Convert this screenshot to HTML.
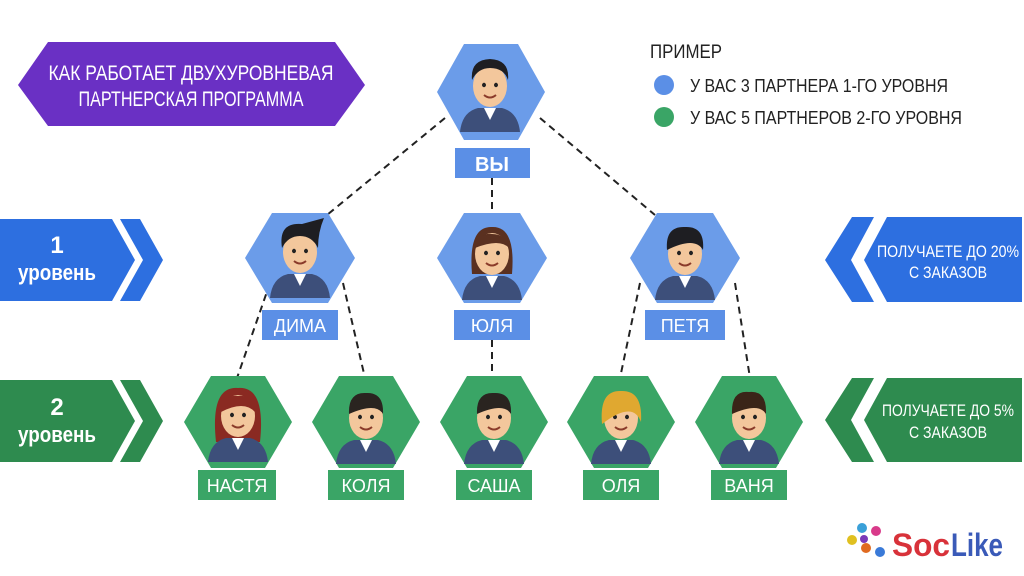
<!DOCTYPE html>
<html><head><meta charset="utf-8"><style>
html,body{margin:0;padding:0;background:#fff;}
svg{display:block;}
text{font-family:"Liberation Sans Narrow","Liberation Sans",sans-serif;}
</style></head><body>
<svg width="1024" height="576" viewBox="0 0 1024 576" xmlns="http://www.w3.org/2000/svg">
<defs>
<g id="face">
  <path d="M-30 46 Q-28 26 -12 22 L12 22 Q28 26 30 46 Z" fill="#3d4f7a"/>
  <path d="M-6 22 L0 34 L6 22 Z" fill="#fff"/>
  <ellipse cx="0" cy="0" rx="17" ry="21" fill="#f3c79c"/>
  <ellipse cx="-6" cy="-1" rx="2" ry="2.2" fill="#222"/>
  <ellipse cx="6" cy="-1" rx="2" ry="2.2" fill="#222"/>
  <path d="M-6 9 Q0 14 6 9" stroke="#8a3b2a" stroke-width="2" fill="none"/>
</g>
</defs>

<!-- purple title -->
<polygon points="18,85 48,42 335,42 365,85 335,126 48,126" fill="#6a30c4"/>
<text x="191" y="80" fill="#fff" font-size="21" text-anchor="middle" textLength="285" lengthAdjust="spacingAndGlyphs">КАК РАБОТАЕТ ДВУХУРОВНЕВАЯ</text>
<text x="191" y="106" fill="#fff" font-size="21" text-anchor="middle" textLength="225" lengthAdjust="spacingAndGlyphs">ПАРТНЕРСКАЯ ПРОГРАММА</text>

<!-- legend -->
<text x="650" y="58" fill="#222" font-size="19" textLength="72" lengthAdjust="spacingAndGlyphs">ПРИМЕР</text>
<circle cx="664" cy="85" r="10" fill="#5b8fe6"/>
<text x="690" y="92" fill="#222" font-size="18" textLength="258" lengthAdjust="spacingAndGlyphs">У ВАС 3 ПАРТНЕРА 1-ГО УРОВНЯ</text>
<circle cx="664" cy="117" r="10" fill="#3aa566"/>
<text x="690" y="124" fill="#222" font-size="18" textLength="272" lengthAdjust="spacingAndGlyphs">У ВАС 5 ПАРТНЕРОВ 2-ГО УРОВНЯ</text>

<!-- left bands -->
<polygon points="0,219 112,219 135,260 112,301 0,301" fill="#2d6fe0"/>
<polygon points="120,219 140,219 163,260 140,301 120,301 143,260" fill="#2d6fe0"/>
<text x="57" y="253" fill="#fff" font-size="24" font-weight="bold" text-anchor="middle">1</text>
<text x="57" y="280" fill="#fff" font-size="22" font-weight="bold" text-anchor="middle" textLength="78" lengthAdjust="spacingAndGlyphs">уровень</text>
<polygon points="0,380 112,380 135,421 112,462 0,462" fill="#2e8b4f"/>
<polygon points="120,380 140,380 163,421 140,462 120,462 143,421" fill="#2e8b4f"/>
<text x="57" y="415" fill="#fff" font-size="24" font-weight="bold" text-anchor="middle">2</text>
<text x="57" y="442" fill="#fff" font-size="22" font-weight="bold" text-anchor="middle" textLength="78" lengthAdjust="spacingAndGlyphs">уровень</text>

<!-- right bands -->
<polygon points="852,217 874,217 851,260 874,302 852,302 825,260" fill="#2d6fe0"/>
<polygon points="887,217 1022,217 1022,302 887,302 864,260" fill="#2d6fe0"/>
<text x="948" y="257" fill="#fff" font-size="17" text-anchor="middle" textLength="142" lengthAdjust="spacingAndGlyphs">ПОЛУЧАЕТЕ ДО 20%</text>
<text x="948" y="278" fill="#fff" font-size="17" text-anchor="middle" textLength="78" lengthAdjust="spacingAndGlyphs">С ЗАКАЗОВ</text>
<polygon points="852,378 874,378 851,420 874,462 852,462 825,420" fill="#2e8b4f"/>
<polygon points="887,378 1022,378 1022,462 887,462 864,420" fill="#2e8b4f"/>
<text x="948" y="416" fill="#fff" font-size="17" text-anchor="middle" textLength="132" lengthAdjust="spacingAndGlyphs">ПОЛУЧАЕТЕ ДО 5%</text>
<text x="948" y="438" fill="#fff" font-size="17" text-anchor="middle" textLength="78" lengthAdjust="spacingAndGlyphs">С ЗАКАЗОВ</text>

<!-- dashed connectors -->
<g stroke="#222" stroke-width="2" stroke-dasharray="7,5" fill="none">
  <line x1="445" y1="118" x2="327" y2="215"/>
  <line x1="492" y1="178" x2="492" y2="215"/>
  <line x1="540" y1="118" x2="655" y2="215"/>
  <line x1="270" y1="283" x2="237" y2="378"/>
  <line x1="343" y1="283" x2="365" y2="378"/>
  <line x1="492" y1="340" x2="492" y2="378"/>
  <line x1="640" y1="283" x2="620" y2="378"/>
  <line x1="735" y1="283" x2="750" y2="378"/>
</g>

<!-- top hex -->
<polygon points="437,92 464,44 518,44 545,92 518,140 464,140" fill="#6b9ce9"/>
<g transform="translate(490,86)"><use href="#face"/><path d="M-18 -6 Q-20 -26 0 -27 Q20 -26 18 -6 Q14 -18 0 -18 Q-12 -18 -18 -6Z" fill="#1e1e22"/></g>
<rect x="455" y="148" width="75" height="30" fill="#5b8fe6"/>
<text x="492" y="171" fill="#fff" font-size="20" font-weight="bold" text-anchor="middle">ВЫ</text>

<!-- level 1 -->
<g>
<polygon points="245,258 272,213 328,213 355,258 328,303 272,303" fill="#6b9ce9"/>
<g transform="translate(300,252)"><use href="#face"/><path d="M-18 -4 Q-22 -30 2 -28 L24 -34 Q18 -20 18 -4 Q12 -16 0 -16 Q-12 -16 -18 -4Z" fill="#1e1e22"/></g>
<rect x="262" y="310" width="76" height="30" fill="#5b8fe6"/>
<text x="300" y="332" fill="#fff" font-size="18" text-anchor="middle">ДИМА</text>

<polygon points="437,258 464,213 520,213 547,258 520,303 464,303" fill="#6b9ce9"/>
<g transform="translate(492,254)"><path d="M-20 20 Q-24 -28 0 -27 Q24 -28 20 20Z" fill="#5a3020"/><use href="#face"/><path d="M-17 -6 Q-12 -22 0 -20 Q14 -20 17 -6 Q8 -16 -17 -6Z" fill="#5a3020"/></g>
<rect x="454" y="310" width="76" height="30" fill="#5b8fe6"/>
<text x="492" y="332" fill="#fff" font-size="18" text-anchor="middle">ЮЛЯ</text>

<polygon points="630,258 657,213 713,213 740,258 713,303 657,303" fill="#6b9ce9"/>
<g transform="translate(685,254)"><use href="#face"/><path d="M-18 -4 Q-20 -28 0 -27 Q20 -28 18 -4 Q10 -18 -18 -4Z" fill="#1e1e22"/></g>
<rect x="645" y="310" width="80" height="30" fill="#5b8fe6"/>
<text x="685" y="332" fill="#fff" font-size="18" text-anchor="middle">ПЕТЯ</text>
</g>

<!-- level 2 -->
<g>
<polygon points="184,422 211,376 265,376 292,422 265,468 211,468" fill="#3aa566"/>
<g transform="translate(238,416)"><path d="M-22 26 Q-28 -30 0 -28 Q28 -30 22 26Z" fill="#8a2a22"/><use href="#face"/><path d="M-17 -4 Q-14 -22 0 -20 Q14 -22 17 -4 Q6 -16 -17 -4Z" fill="#8a2a22"/></g>
<rect x="198" y="470" width="78" height="30" fill="#3aa566"/>
<text x="237" y="492" fill="#fff" font-size="18" text-anchor="middle">НАСТЯ</text>

<polygon points="312,422 339,376 393,376 420,422 393,468 339,468" fill="#3aa566"/>
<g transform="translate(366,418)"><use href="#face"/><path d="M-17 -4 Q-18 -26 0 -25 Q18 -26 17 -4 Q10 -16 -17 -4Z" fill="#2a2420"/></g>
<rect x="328" y="470" width="76" height="30" fill="#3aa566"/>
<text x="366" y="492" fill="#fff" font-size="18" text-anchor="middle">КОЛЯ</text>

<polygon points="440,422 467,376 521,376 548,422 521,468 467,468" fill="#3aa566"/>
<g transform="translate(494,418)"><use href="#face"/><path d="M-17 -4 Q-18 -26 0 -25 Q18 -26 17 -4 Q10 -16 -17 -4Z" fill="#2a2420"/></g>
<rect x="456" y="470" width="76" height="30" fill="#3aa566"/>
<text x="494" y="492" fill="#fff" font-size="18" text-anchor="middle">САША</text>

<polygon points="567,422 594,376 648,376 675,422 648,468 594,468" fill="#3aa566"/>
<g transform="translate(621,418)"><use href="#face"/><path d="M-19 6 Q-22 -28 0 -27 Q22 -28 20 4 Q12 -18 -19 6Z" fill="#e0a830"/></g>
<rect x="583" y="470" width="76" height="30" fill="#3aa566"/>
<text x="621" y="492" fill="#fff" font-size="18" text-anchor="middle">ОЛЯ</text>

<polygon points="695,422 722,376 776,376 803,422 776,468 722,468" fill="#3aa566"/>
<g transform="translate(749,418)"><use href="#face"/><path d="M-17 -4 Q-18 -28 0 -26 Q18 -28 17 -4 Q10 -16 -17 -4Z" fill="#3a2418"/></g>
<rect x="711" y="470" width="76" height="30" fill="#3aa566"/>
<text x="749" y="492" fill="#fff" font-size="18" text-anchor="middle">ВАНЯ</text>
</g>

<!-- logo -->
<g>
  <circle cx="852" cy="540" r="5" fill="#e0c020"/>
  <circle cx="862" cy="528" r="5" fill="#3aa0d8"/>
  <circle cx="876" cy="531" r="5" fill="#d83a8a"/>
  <circle cx="866" cy="548" r="5" fill="#e06a20"/>
  <circle cx="880" cy="552" r="5" fill="#3a7ad8"/>
  <circle cx="864" cy="539" r="4" fill="#7a3ab8"/>
</g>
<text x="892" y="556" fill="#d8323a" font-size="32" font-weight="bold" textLength="58" lengthAdjust="spacingAndGlyphs">Soc</text>
<text x="951" y="556" fill="#3a5ab8" font-size="32" font-weight="bold" textLength="52" lengthAdjust="spacingAndGlyphs">Like</text>
</svg>
</body></html>
